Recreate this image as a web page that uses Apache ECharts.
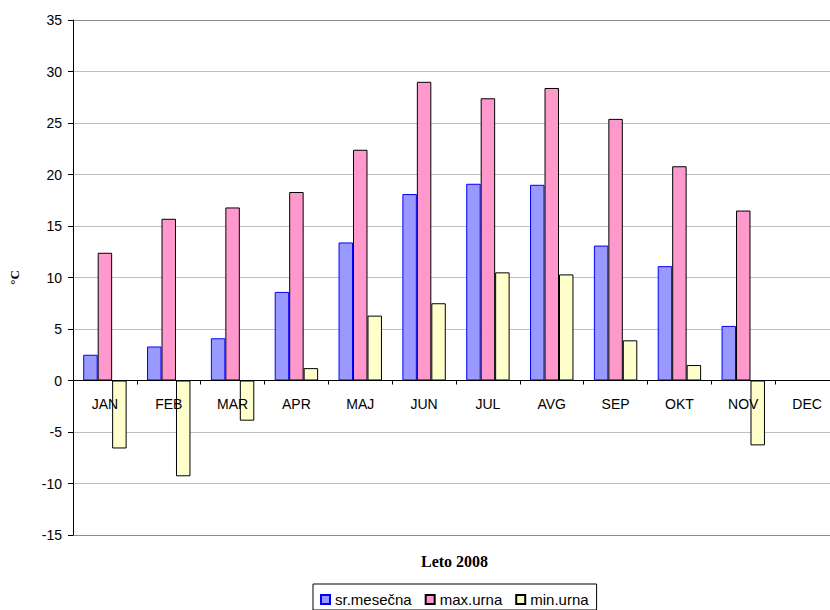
<!DOCTYPE html>
<html>
<head>
<meta charset="utf-8">
<script src="https://cdn.jsdelivr.net/npm/echarts@6/dist/echarts.min.js"></script>
<style>
html, body { margin: 0; padding: 0; background: #fff; }
#chart { width: 830px; height: 610px; }
</style>
</head>
<body>
<div id="chart"></div>
<script>
// podatki - Leto 2008
let months = ['JAN', 'FEB', 'MAR', 'APR', 'MAJ', 'JUN', 'JUL', 'AVG', 'SEP', 'OKT', 'NOV', 'DEC'];
let srMesecna = [2.5, 3.3, 4.1, 8.6, 13.4, 18.1, 19.1, 19.0, 13.1, 11.1, 5.3, null];
let maxUrna = [12.4, 15.7, 16.8, 18.3, 22.4, 29.0, 27.4, 28.4, 25.4, 20.8, 16.5, null];
let minUrna = [-6.6, -9.3, -3.9, 1.2, 6.3, 7.5, 10.5, 10.3, 3.9, 1.5, -6.3, null];
let yMin = -15, yMax = 35, yStep = 5;

let sans = '"Liberation Sans", Arial, sans-serif';
let serif = '"Liberation Serif", "Times New Roman", serif';

let gridH = 515;
// category axis sits on the zero line (labels too), so shift it up from the grid bottom
let zeroOffset = -(0 - yMin) / (yMax - yMin) * gridH;

// top and bottom lines are the plot border (darker), rest light grid
let gridColors = [];
for (let v = yMin; v <= yMax; v += yStep) {
    gridColors.push(v === yMin || v === yMax ? '#8c8c8c' : '#c0c0c0');
}

let bar = (name, data, fill, border) => ({
    name,
    type: 'bar',
    data,
    barGap: '0%',
    barCategoryGap: '32%',
    itemStyle: { color: fill, borderColor: border, borderWidth: 1 },
    emphasis: { disabled: true },
    animation: false
});

let chart = echarts.init(document.getElementById('chart'), null, { renderer: 'svg' });
chart.setOption({
    backgroundColor: '#fff',
    animation: false,
    title: {
        text: 'Leto 2008',
        left: 421,
        top: 553,
        padding: 0,
        textStyle: { fontFamily: serif, fontWeight: 'bold', fontSize: 16, color: '#000' }
    },
    legend: {
        left: 313,
        top: 584,
        icon: 'rect',
        itemWidth: 9,
        itemHeight: 9,
        itemGap: 13,
        padding: [8, 8, 3, 7],
        borderColor: '#000',
        borderWidth: 1,
        textStyle: { fontFamily: sans, fontSize: 15, color: '#000' },
        data: ['sr.mesečna', 'max.urna', 'min.urna']
    },
    grid: { left: 73, top: 20, width: 766, height: gridH, containLabel: false, outerBoundsMode: 'none' },
    xAxis: {
        type: 'category',
        data: months,
        z: 3,
        offset: zeroOffset,
        axisLine: { onZero: false, lineStyle: { color: '#000', width: 1 } },
        axisTick: { show: true, length: 4, lineStyle: { color: '#000' } },
        axisLabel: { margin: 16, fontFamily: sans, fontSize: 14, color: '#000' },
        splitLine: { show: false }
    },
    yAxis: {
        type: 'value',
        min: yMin,
        max: yMax,
        interval: yStep,
        name: '°C',
        nameLocation: 'middle',
        nameRotate: 90,
        nameGap: 52,
        nameTextStyle: { fontFamily: serif, fontWeight: 'bold', fontSize: 13, color: '#000' },
        axisLine: { show: true, lineStyle: { color: '#000', width: 1 } },
        axisTick: { show: true, length: 5, lineStyle: { color: '#000' } },
        axisLabel: { margin: 11, fontFamily: sans, fontSize: 14, color: '#000' },
        splitLine: { show: true, lineStyle: { color: gridColors, width: 1 } }
    },
    series: [
        bar('sr.mesečna', srMesecna, '#9999ff', '#0000ff'),
        bar('max.urna', maxUrna, '#ff99cc', '#000'),
        bar('min.urna', minUrna, '#ffffcc', '#000')
    ]
});
</script>
</body>
</html>
